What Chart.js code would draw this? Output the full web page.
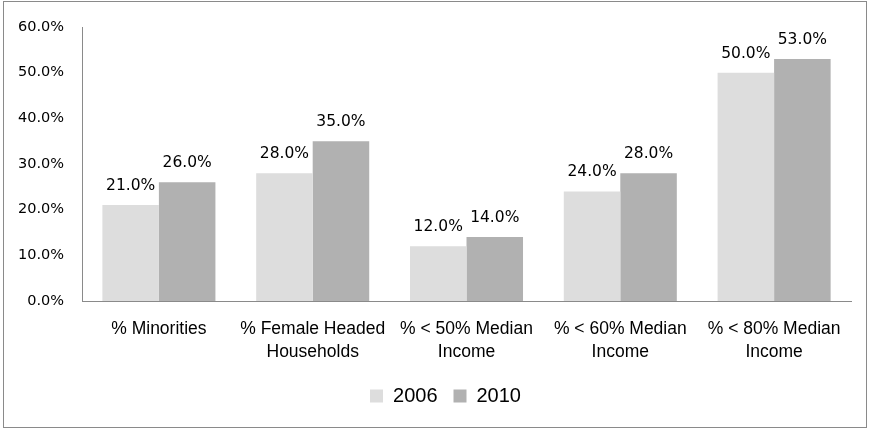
<!DOCTYPE html>
<html>
<head>
<meta charset="utf-8">
<script src="https://cdn.jsdelivr.net/npm/chart.js@4"></script>
<style>
  html, body { margin: 0; padding: 0; background: #fff; }
  #frame { position: absolute; left: 3px; top: 1px; width: 862px; height: 425px; border: 1px solid #8a8a8a; }
  #wrap { position: absolute; left: 0; top: 0; width: 876px; height: 430px; }
</style>
</head>
<body>
<div id="frame"></div>
<div id="wrap"><canvas id="chart"></canvas></div>
<script>
// ---- data ----
const categories = [
    '% Minorities',
    ['% Female Headed', 'Households'],
    ['% < 50% Median', 'Income'],
    ['% < 60% Median', 'Income'],
    ['% < 80% Median', 'Income']
];
const values2006 = [21, 28, 12, 24, 50];
const values2010 = [26, 35, 14, 28, 53];
const yTicks = [0, 10, 20, 30, 40, 50, 60];

// labels above the bars (no datalabels plugin offline, so draw them here)
const barLabels = {
    id: 'barLabels',
    afterDatasetsDraw(chart) {
        const ctx = chart.ctx;
        ctx.save();
        ctx.font = '15.5px "DejaVu Sans"';
        ctx.fillStyle = '#000';
        ctx.textAlign = 'center';
        ctx.textBaseline = 'alphabetic';
        chart.data.datasets.forEach((ds, i) => {
            chart.getDatasetMeta(i).data.forEach((bar, j) => {
                ctx.fillText(ds.data[j].toFixed(1) + '%', bar.x, bar.y - 15);
            });
        });
        ctx.restore();
    }
};

// nudge the legend a bit right, like the original
const legendShift = {
    id: 'legendShift',
    afterLayout(chart) {
        if (chart.legend) {
            chart.legend.left += 20;
            chart.legend.right += 20;
        }
    }
};

new Chart(document.getElementById('chart'), {
    type: 'bar',
    data: {
        labels: categories,
        datasets: [
            { label: '2006', data: values2006, backgroundColor: '#dddddd' },
            { label: '2010', data: values2010, backgroundColor: '#b1b1b1' }
        ]
    },
    options: {
        responsive: true,
        maintainAspectRatio: false,
        animation: false,
        layout: { padding: { top: 27, right: 25, bottom: 14, left: 0 } },
        datasets: { bar: { categoryPercentage: 0.735, barPercentage: 1 } },
        scales: {
            x: {
                grid: { display: false },
                border: { color: '#8a8a8a' },
                ticks: {
                    color: '#000',
                    font: { family: '"Liberation Sans"', size: 17.5, lineHeight: 1.3 },
                    padding: 9,
                    maxRotation: 0,
                    autoSkip: false
                },
                afterFit(s) { s.height = 69; }
            },
            y: {
                min: 0,
                max: 60,
                grid: { display: false },
                border: { color: '#8a8a8a' },
                afterBuildTicks(s) { s.ticks = yTicks.map(v => ({ value: v })); },
                ticks: {
                    color: '#000',
                    font: { family: '"DejaVu Sans"', size: 14.5 },
                    padding: 10,
                    callback: v => v.toFixed(1) + '%'
                },
                afterFit(s) { s.width = 82; }
            }
        },
        plugins: {
            tooltip: { enabled: false },
            legend: {
                position: 'bottom',
                labels: {
                    color: '#000',
                    boxWidth: 13,
                    boxHeight: 13,
                    padding: 16,
                    font: { family: '"Liberation Sans"', size: 20 }
                }
            }
        }
    },
    plugins: [barLabels, legendShift]
});
</script>
</body>
</html>
